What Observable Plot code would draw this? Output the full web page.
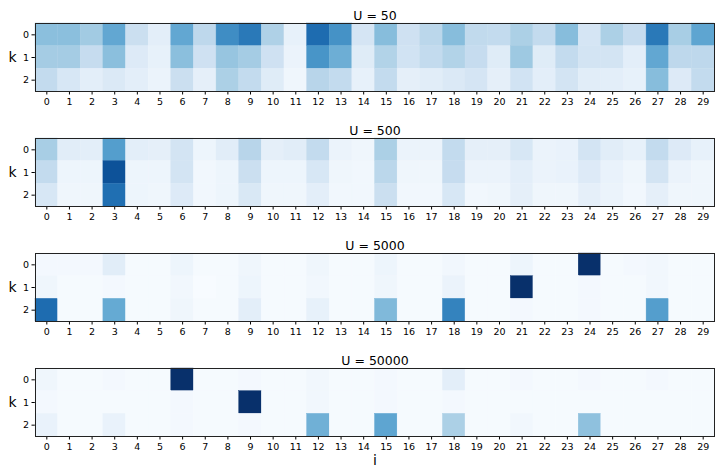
<!DOCTYPE html>
<html>
<head>
<meta charset="utf-8">
<script src="https://cdn.jsdelivr.net/npm/d3@7"></script>
<script src="https://cdn.jsdelivr.net/npm/@observablehq/plot@0.6"></script>
<style>
  html, body { margin: 0; padding: 0; background: #fff; overflow: hidden; }
  #chart { width: 723px; }
  #chart svg { display: block; max-width: none; }
</style>
</head>
<body>
<div id="chart"></div>
<script>
const iTicks = d3.range(30);
const kTicks = [0, 1, 2];
const titles = ["U = 50", "U = 500", "U = 5000", "U = 50000"];

const u50 = [
  [0.42,0.42,0.36,0.53,0.22,0.10,0.53,0.27,0.64,0.72,0.32,0.08,0.77,0.62,0.17,0.43,0.20,0.28,0.43,0.26,0.25,0.33,0.25,0.43,0.17,0.33,0.24,0.72,0.34,0.54],
  [0.35,0.35,0.24,0.42,0.13,0.08,0.42,0.20,0.39,0.35,0.20,0.06,0.61,0.50,0.12,0.31,0.19,0.25,0.31,0.24,0.12,0.37,0.12,0.25,0.18,0.18,0.10,0.53,0.27,0.27],
  [0.25,0.16,0.10,0.14,0.10,0.06,0.22,0.09,0.33,0.25,0.12,0.04,0.29,0.25,0.08,0.25,0.09,0.11,0.14,0.17,0.09,0.19,0.10,0.18,0.11,0.10,0.08,0.43,0.13,0.25]
];
const u500 = [
  [0.34,0.11,0.10,0.57,0.10,0.09,0.18,0.05,0.11,0.29,0.09,0.11,0.25,0.06,0.04,0.33,0.06,0.06,0.25,0.09,0.09,0.16,0.06,0.07,0.18,0.11,0.08,0.25,0.13,0.08],
  [0.25,0.05,0.05,0.87,0.05,0.05,0.18,0.03,0.05,0.22,0.05,0.05,0.16,0.04,0.03,0.28,0.04,0.04,0.24,0.06,0.06,0.10,0.06,0.07,0.13,0.07,0.04,0.18,0.06,0.04],
  [0.16,0.04,0.04,0.76,0.05,0.04,0.13,0.03,0.05,0.15,0.04,0.04,0.10,0.03,0.03,0.22,0.03,0.03,0.16,0.03,0.04,0.09,0.04,0.04,0.09,0.06,0.03,0.09,0.04,0.04]
];
const u5000 = [
  [0.02,0.02,0.02,0.11,0.01,0.01,0.05,0.01,0.01,0.04,0.01,0.01,0.04,0.01,0.01,0.05,0.01,0.01,0.03,0.01,0.01,0.05,0.01,0.01,1.00,0.01,0.02,0.03,0.01,0.01],
  [0.04,0.01,0.01,0.02,0.01,0.01,0.03,0.00,0.01,0.05,0.01,0.01,0.03,0.01,0.01,0.04,0.01,0.01,0.06,0.01,0.01,1.00,0.01,0.01,0.02,0.01,0.01,0.03,0.01,0.01],
  [0.77,0.01,0.01,0.52,0.01,0.01,0.04,0.01,0.01,0.10,0.01,0.01,0.08,0.01,0.01,0.45,0.01,0.01,0.68,0.01,0.01,0.02,0.01,0.01,0.02,0.01,0.01,0.57,0.01,0.01]
];
const u50000 = [
  [0.04,0.01,0.01,0.02,0.01,0.01,1.00,0.01,0.01,0.02,0.01,0.01,0.03,0.01,0.01,0.02,0.01,0.01,0.10,0.01,0.01,0.02,0.01,0.01,0.02,0.01,0.01,0.02,0.01,0.01],
  [0.02,0.01,0.01,0.01,0.01,0.01,0.02,0.01,0.01,1.00,0.01,0.01,0.03,0.01,0.01,0.02,0.01,0.01,0.02,0.01,0.01,0.01,0.01,0.01,0.01,0.01,0.01,0.01,0.01,0.01],
  [0.07,0.01,0.01,0.07,0.01,0.01,0.02,0.01,0.01,0.02,0.01,0.01,0.49,0.01,0.01,0.54,0.01,0.01,0.33,0.01,0.01,0.03,0.01,0.01,0.41,0.01,0.01,0.01,0.01,0.01]
];
const panels = [u50, u500, u5000, u50000];

const chart = document.getElementById("chart");
panels.forEach((grid, p) => {
  const last = p === panels.length - 1;
  const data = [];
  grid.forEach((row, k) => row.forEach((v, i) => data.push({i: iTicks[i], k: kTicks[k], v})));
  const marks = [
    Plot.cell(data, {x: "i", y: "k", fill: "v", stroke: "v", strokeWidth: 0.4}),
    Plot.frame({stroke: "#222", strokeWidth: 1}),
    Plot.text([titles[p]], {frameAnchor: "top", dy: -12, fontSize: 12.5, fill: "#000"}),
    Plot.text(["k"], {frameAnchor: "left", dx: -27, fontSize: 14, fill: "#000"})
  ];
  if (last) marks.push(Plot.text(["i"], {frameAnchor: "bottom", dy: 28, fontSize: 14, fill: "#000"}));
  const svg = Plot.plot({
    width: 723,
    height: last ? 130 : 115,
    marginLeft: 35,
    marginRight: 9,
    marginTop: 23,
    marginBottom: last ? 39 : 24,
    style: {fontFamily: "DejaVu Sans", fontSize: "9.5px", color: "#000", background: "#fff"},
    x: {type: "band", domain: iTicks, padding: 0, round: false, label: null, tickSize: 3.5, tickPadding: 3},
    y: {type: "band", domain: kTicks, padding: 0, round: false, label: null, tickSize: 3.5, tickPadding: 3},
    color: {type: "linear", scheme: "blues", domain: [0, 1]},
    marks
  });
  chart.appendChild(svg);
});
</script>
</body>
</html>
